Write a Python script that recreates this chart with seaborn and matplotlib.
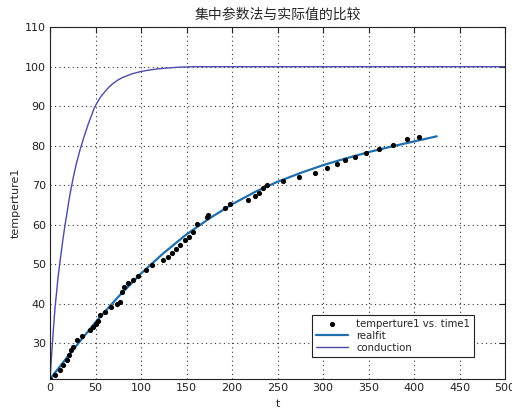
import numpy as np
import pandas as pd
import seaborn as sns
import matplotlib
matplotlib.use("Agg")
import matplotlib.pyplot as plt

time1 = [0, 5.5, 11, 14.6, 18.3, 20.9, 22.7, 24.9, 29.3, 34.8, 44, 46.9, 50, 52.4, 55,
         60, 67, 73.3, 76.9, 78.8, 81.3, 86, 91.6, 97, 106, 112.4, 123.8, 130, 133.7,
         138.5, 142.9, 148.4, 152.7, 157.5, 161.9, 172.2, 174, 192.3, 197.8, 218, 225.3,
         230, 234.4, 238.8, 255.7, 274, 291.2, 304, 315, 324, 335, 347, 361, 376.6,
         392.7, 405.5]
temperture1 = [21.0, 22.0, 23.3, 24.5, 25.8, 27.1, 28.3, 29.0, 30.9, 32.0, 33.4, 34.1,
               35.0, 35.7, 37.2, 38.0, 39.3, 40.1, 40.6, 43.1, 44.3, 45.2, 46.0, 47.0,
               48.6, 49.8, 51.1, 51.9, 52.8, 54.0, 54.9, 56.1, 57.0, 58.2, 60.2, 62.0,
               62.5, 64.2, 65.2, 66.3, 67.3, 68.1, 69.2, 70.2, 71.1, 72.1, 73.2, 74.3,
               75.3, 76.4, 77.2, 78.1, 79.3, 80.2, 81.6, 82.3]

# fitted curve
fit_t = [0, 25, 50, 75, 100, 125, 150, 175, 200, 225, 250, 275, 300, 325, 350, 375, 400, 425]
fit_T = [21.0, 28.3, 35.4, 41.8, 47.7, 52.9, 57.6, 61.6, 65.2, 68.3, 70.9, 73.1, 75.1,
         76.8, 78.4, 79.8, 81.1, 82.4]

# lumped-parameter (conduction) curve
cond_t = [0, 1, 2.5, 4, 5.5, 7, 8.5, 10, 12, 14, 16.5, 19, 21, 23, 26, 29, 33, 37, 42,
          48.5, 52, 56, 60, 65, 70, 75, 80, 90, 100, 110, 120, 130, 140, 150, 160,
          200, 300, 400, 500]
cond_T = [21.0, 24.5, 29.5, 34.5, 39.0, 42.5, 46.0, 49.0, 52.5, 56.0, 60.0, 63.5, 66.5,
          69.0, 72.5, 75.5, 79.0, 82.0, 85.5, 89.5, 91.0, 92.5, 93.6, 94.9, 95.9, 96.7,
          97.3, 98.2, 98.8, 99.2, 99.5, 99.7, 99.85, 99.95, 100.0, 100.0, 100.0, 100.0,
          100.0]

pts = pd.DataFrame({"t": time1, "T": temperture1})
fit = pd.DataFrame({"t": fit_t, "T": fit_T})
cond = pd.DataFrame({"t": cond_t, "T": cond_T})

sns.set_style("white")
plt.rcParams["font.family"] = ["DejaVu Sans", "Noto Sans CJK SC"]

fig = plt.figure(figsize=(5.12, 4.12), dpi=100)
ax = fig.add_axes([0.0977, 0.080, 0.8887, 0.854])

sns.scatterplot(data=pts, x="t", y="T", ax=ax, color="black", s=14, edgecolor="black",
                linewidth=0, label="temperture1 vs. time1", zorder=3)
sns.lineplot(data=fit, x="t", y="T", ax=ax, color="#1f6fae", linewidth=1.6,
             label="realfit", zorder=2)
sns.lineplot(data=cond, x="t", y="T", ax=ax, color="#4a4aa8", linewidth=1.0,
             label="conduction", zorder=2)

ax.set_xlim(0, 500)
ax.set_ylim(21, 110)
ax.set_xticks(np.arange(0, 501, 50))
ax.set_yticks(np.arange(30, 111, 10))
ax.grid(True, color="#333333", linestyle=(0, (1, 3)), linewidth=0.8)
ax.tick_params(direction="in", top=True, right=True, length=4, labelsize=8,
               colors="#222222", pad=3)
for sp in ax.spines.values():
    sp.set_color("#222222")
    sp.set_linewidth(0.8)

ax.set_xlabel("t", fontsize=8, labelpad=4)
ax.set_ylabel("temperture1", fontsize=8, labelpad=3)
ax.set_title("集中参数法与实际值的比较", fontsize=10,
             family=["Noto Sans CJK SC", "DejaVu Sans"], pad=6)

leg = ax.legend(loc="lower right", bbox_to_anchor=(0.932, 0.0625), fontsize=7.3,
                frameon=True, fancybox=False, framealpha=1, edgecolor="#222222",
                borderpad=0.4, handlelength=3.2, labelspacing=0.2, borderaxespad=0)
leg.get_frame().set_linewidth(0.8)

fig.savefig("out.png", dpi=100)
